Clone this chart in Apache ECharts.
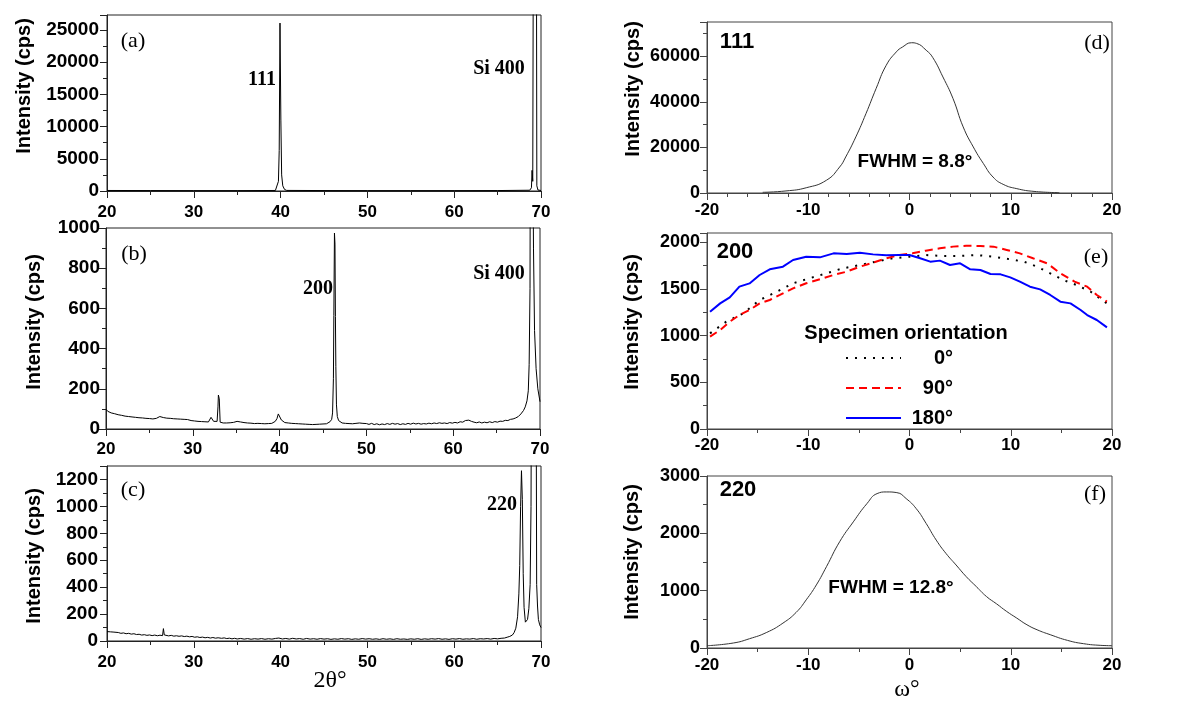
<!DOCTYPE html>
<html><head><meta charset="utf-8">
<script src="https://cdn.jsdelivr.net/npm/echarts@6/dist/echarts.min.js"></script>
<style>html,body{margin:0;padding:0;background:#fff}#c{width:1182px;height:707px}</style>
</head><body><div id="c"></div>
<script>
// ---------- DATA ----------
// (a) 2theta scan, 111 texture
const scanA = [[20,80],[25,70],[30,60],[35,60],[39.4,80],[39.6,300],[39.75,1500],[39.84,6300],[39.93,26050],[40.03,11000],[40.12,2500],[40.25,800],[40.45,250],[40.7,90],[45,70],[50,60],[55,60],[60,60],[65,70],[68.7,120],[68.9,500],[68.97,3200],[69.05,1500],[69.15,60000],[69.45,60000],[69.52,800],[69.65,150],[70,80]];
// (b) 2theta scan, 200 texture
const scanB = [[20.0,98],[20.2,88],[20.4,92],[20.6,80],[20.8,84],[21.0,76],[21.2,80],[21.4,71],[21.6,74],[21.8,68],[22.0,72],[22.2,64],[22.4,68],[22.6,62],[22.8,66],[23.0,60],[23.2,64],[23.4,58],[23.6,63],[23.8,56],[24.0,61],[24.2,55],[24.4,59],[24.6,53],[24.8,57],[25.0,52],[25.2,56],[25.4,50],[25.6,55],[25.8,53],[26.0,58],[26.2,62],[26.4,54],[26.6,57],[26.8,50],[27.0,54],[27.2,48],[27.4,53],[27.6,47],[27.8,51],[28.0,46],[28.2,50],[28.4,45],[28.6,49],[28.8,44],[29.0,48],[29.2,43],[29.4,47],[29.6,50],[29.8,42],[30.0,45],[30.2,40],[30.4,44],[30.6,38],[30.8,42],[31.0,37],[31.2,40],[31.4,36],[31.6,39],[31.8,35],[32.0,40],[32.1,58],[32.2,52],[32.4,38],[32.6,36],[32.8,38],[32.9,110],[32.95,169],[33.05,150],[33.15,34],[33.3,28],[33.5,30],[33.7,27],[33.9,30],[34.1,28],[34.3,31],[34.5,29],[34.7,33],[34.9,35],[35.1,38],[35.3,40],[35.5,35],[35.7,37],[35.9,32],[36.1,34],[36.3,30],[36.5,33],[36.7,29],[36.9,31],[37.1,27],[37.3,30],[37.5,28],[37.7,30],[37.9,27],[38.1,29],[38.3,26],[38.5,29],[38.7,27],[38.9,30],[39.1,28],[39.3,32],[39.5,38],[39.7,52],[39.85,75],[39.95,81],[40.05,68],[40.2,45],[40.4,36],[40.6,32],[40.8,34],[41.0,30],[41.2,32],[41.4,28],[41.6,31],[41.8,27],[42.0,29],[42.2,26],[42.4,28],[42.6,25],[42.8,28],[43.0,24],[43.2,27],[43.4,23],[43.6,26],[43.8,22],[44.0,25],[44.2,23],[44.4,26],[44.6,24],[44.8,27],[45.0,25],[45.2,28],[45.4,26],[45.6,30],[45.8,36],[46.0,48],[46.1,80],[46.2,250],[46.25,565],[46.32,975],[46.38,920],[46.43,560],[46.48,310],[46.55,120],[46.65,62],[46.8,42],[47.0,34],[47.2,30],[47.4,33],[47.6,28],[47.8,31],[48.0,27],[48.2,30],[48.4,26],[48.6,33],[48.8,28],[49.0,26],[49.2,30],[49.4,25],[49.6,28],[49.8,24],[50.0,27],[50.3,23],[50.6,28],[50.9,22],[51.2,26],[51.5,21],[51.8,25],[52.1,22],[52.4,27],[52.7,23],[53.0,28],[53.3,24],[53.6,27],[53.9,22],[54.2,26],[54.5,23],[54.8,28],[55.1,24],[55.4,29],[55.7,25],[56.0,28],[56.3,24],[56.6,27],[56.9,25],[57.2,29],[57.5,26],[57.8,30],[58.1,27],[58.4,31],[58.7,28],[59.0,30],[59.3,27],[59.6,32],[59.9,29],[60.2,33],[60.5,30],[60.8,36],[61.1,34],[61.4,42],[61.6,48],[61.8,44],[62.1,38],[62.4,34],[62.7,31],[63.0,35],[63.3,30],[63.6,34],[63.9,31],[64.2,36],[64.5,32],[64.8,37],[65.1,34],[65.4,39],[65.7,38],[66.0,43],[66.3,42],[66.6,48],[66.9,50],[67.2,55],[67.5,62],[67.8,75],[68.1,92],[68.3,110],[68.5,140],[68.65,190],[68.75,320],[68.85,700],[68.95,3000],[69.15,3000],[69.25,900],[69.37,490],[69.55,300],[69.75,200],[70.0,136]];
// (c) 2theta scan, 220 texture
const scanC = [[20.0,70],[20.2,64],[20.4,68],[20.6,62],[20.8,66],[21.0,60],[21.3,63],[21.6,57],[21.9,60],[22.2,54],[22.5,57],[22.8,51],[23.1,54],[23.4,48],[23.7,50],[24.0,44],[24.3,47],[24.6,42],[24.9,45],[25.2,40],[25.5,44],[25.8,39],[26.1,43],[26.4,40],[26.5,92],[26.6,45],[26.8,41],[27.1,38],[27.4,42],[27.7,36],[28.0,39],[28.3,35],[28.6,38],[28.9,33],[29.2,36],[29.5,31],[29.8,34],[30.1,28],[30.4,31],[30.7,26],[31.0,29],[31.3,24],[31.6,27],[31.9,22],[32.2,26],[32.5,21],[32.8,24],[33.0,32],[33.2,20],[33.5,23],[33.8,18],[34.1,21],[34.4,16],[34.7,20],[35.0,15],[35.4,19],[35.8,14],[36.2,18],[36.6,13],[37.0,17],[37.4,14],[37.8,18],[38.2,13],[38.6,17],[39.0,14],[39.4,19],[39.8,22],[40.2,15],[40.6,19],[41.0,14],[41.4,20],[41.8,15],[42.2,18],[42.6,13],[43.0,19],[43.4,14],[43.8,17],[44.2,13],[44.6,18],[45.0,14],[45.4,17],[45.8,12],[46.2,16],[46.6,13],[47.0,18],[47.4,14],[47.8,17],[48.2,12],[48.6,16],[49.0,13],[49.4,18],[49.8,14],[50.2,17],[50.6,13],[51.0,16],[51.4,12],[51.8,17],[52.2,13],[52.6,16],[53.0,12],[53.4,17],[53.8,13],[54.2,15],[54.6,12],[55.0,16],[55.4,13],[55.8,17],[56.2,12],[56.6,16],[57.0,13],[57.4,17],[57.8,14],[58.2,18],[58.6,13],[59.0,16],[59.4,12],[59.8,17],[60.2,14],[60.6,18],[61.0,13],[61.4,16],[61.8,14],[62.2,18],[62.6,13],[63.0,17],[63.4,15],[63.8,18],[64.2,14],[64.6,19],[65.0,16],[65.4,20],[65.8,22],[66.1,28],[66.4,34],[66.7,44],[66.9,62],[67.1,95],[67.3,180],[67.45,350],[67.55,560],[67.65,1000],[67.75,1265],[67.85,1050],[67.95,500],[68.05,250],[68.2,140],[68.3,133],[68.45,160],[68.6,240],[68.75,420],[68.85,1000],[68.95,3000],[69.4,3000],[69.5,420],[69.6,260],[69.7,160],[69.85,120],[70.0,100]];
// (d) rocking curve 111
const rockD = [[-14.5,300],[-12.2,900],[-10.2,2300],[-8.2,5600],[-6.9,11400],[-6.3,15800],[-5.3,24600],[-4.3,34800],[-3.3,45800],[-2.3,56000],[-1.3,61900],[-0.7,64000],[0.2,65900],[0.7,65600],[1.65,62600],[2.3,59400],[3.3,50900],[4.3,41400],[5.3,29000],[6.3,20200],[7.3,12900],[8.25,7000],[9.25,3800],[10.6,1900],[12.3,700],[14.8,150]];
// (e) rocking curves 200, three specimen orientations
const rockE0 = [[-19.7,1025],[-18.1,1150],[-16.4,1239],[-14.8,1382],[-13.1,1471],[-11.5,1561],[-9.9,1614],[-8.2,1668],[-6.6,1721],[-4.9,1757],[-3.3,1793],[-1.65,1829],[0,1846],[1.65,1864],[3.3,1854],[5.0,1854],[6.6,1864],[8.3,1846],[9.95,1818],[11.3,1793],[12.6,1739],[13.9,1668],[15.2,1596],[16.5,1543],[17.9,1471],[19.5,1346]];
const rockE90 = [[-19.7,989],[-18.7,1061],[-17.75,1150],[-16.8,1221],[-15.8,1275],[-14.8,1346],[-13.8,1382],[-12.8,1436],[-11.5,1507],[-10.2,1561],[-8.85,1604],[-7.5,1650],[-6.2,1686],[-4.9,1739],[-3.6,1782],[-2.3,1829],[-1.0,1864],[0.3,1882],[1.6,1911],[3.0,1936],[4.3,1954],[5.6,1964],[7.0,1961],[8.3,1954],[9.6,1918],[10.9,1882],[12.2,1829],[13.6,1775],[14.9,1668],[16.3,1579],[17.55,1525],[18.5,1436],[19.5,1364]];
const rockE180 = [[-19.7,1257],[-18.7,1346],[-17.75,1411],[-16.8,1525],[-15.8,1560],[-14.8,1650],[-13.8,1711],[-12.5,1739],[-11.5,1811],[-10.2,1846],[-8.85,1839],[-7.5,1882],[-6.2,1875],[-4.9,1889],[-3.6,1871],[-2.3,1861],[-1.0,1864],[0,1864],[1.05,1829],[2.05,1793],[3.0,1804],[4.0,1757],[5.0,1775],[6.0,1711],[7.0,1704],[8.0,1661],[9.0,1657],[9.95,1625],[10.9,1579],[11.9,1525],[12.9,1496],[13.9,1436],[14.9,1364],[15.9,1346],[16.9,1275],[17.55,1221],[18.5,1168],[19.5,1089]];
// (f) rocking curve 220
const rockF = [[-20,40],[-17.4,87],[-15.8,162],[-14.1,272],[-12.5,434],[-11.2,620],[-10.2,840],[-9.2,1100],[-8.2,1419],[-6.9,1853],[-5.55,2200],[-4.2,2519],[-3.2,2693],[-2.25,2722],[-1.25,2710],[-0.33,2606],[0.66,2432],[1.65,2171],[2.64,1882],[3.6,1650],[4.6,1448],[5.6,1245],[6.6,1071],[7.6,898],[8.6,770],[9.6,637],[10.6,521],[11.6,405],[12.6,318],[13.9,232],[15.6,133],[17.2,75],[18.9,46],[20,40]];
const orientationNames = ['0°','90°','180°'];

// ---------- LAYOUT / STYLE ----------
const SANS = "'Liberation Sans', Arial, sans-serif";
const SERIF = "'Liberation Serif', 'Times New Roman', serif";
const L = '#222', R = '#444';
const grids = [
  {left:107, top:15, width:434, height:176},
  {left:106, top:228, width:434, height:201},
  {left:107, top:466, width:434, height:175},
  {left:707, top:22, width:405, height:171},
  {left:707, top:233, width:405, height:196},
  {left:707, top:476, width:405, height:172}
];
const gridCols = [L,L,L,R,R,R];
const plain = v => String(v);

function xAx(gi, min, max, interval, minorSplit, margin, color) {
  return {type:'value', gridIndex:gi, min, max, interval,
    axisLine:{show:true, onZero:false, lineStyle:{color, width:1}},
    axisTick:{show:true, inside:false, length:7, lineStyle:{color}},
    minorTick:{show:true, splitNumber:minorSplit, length:4, lineStyle:{color}},
    splitLine:{show:false}, minorSplitLine:{show:false},
    axisLabel:{margin, formatter:plain, color:'#000', fontFamily:SANS, fontWeight:'bold', fontSize:17}};
}
function yAx(gi, min, max, interval, minorSplit, margin, color, fs, showMax) {
  return {type:'value', gridIndex:gi, min, max, interval,
    axisLine:{show:true, onZero:false, lineStyle:{color, width:1}},
    axisTick:{show:true, inside:false, length:7, lineStyle:{color}},
    minorTick:{show:true, splitNumber:minorSplit, length:4, lineStyle:{color}},
    splitLine:{show:false}, minorSplitLine:{show:false},
    axisLabel:{margin, formatter:plain, color:'#000', fontFamily:SANS, fontWeight:'bold', fontSize:fs, showMaxLabel:showMax}};
}
function line(name, gi, data, style, smooth) {
  return {name, type:'line', xAxisIndex:gi, yAxisIndex:gi, data, showSymbol:false, symbol:'none',
    clip:true, smooth: smooth || false,
    itemStyle:{color:style.color}, lineStyle:style, animation:false};
}
function txt(x, y, text, font, rot) {
  return {type:'text', x, y, rotation: rot || 0, silent:true,
    style:{text, x:0, y:0, font, fill:'#000', textAlign:'center', textVerticalAlign:'middle'}};
}
const yTitle = 'bold 20px ' + SANS;

const option = {
  backgroundColor:'#fff',
  animation:false,
  grid: grids.map((g,i)=>Object.assign({show:true, borderColor:gridCols[i], borderWidth:1, backgroundColor:'transparent', containLabel:false}, g)),
  xAxis: [
    xAx(0,20,70,10,2,13,L), xAx(1,20,70,10,2,12,L), xAx(2,20,70,10,2,13,L),
    xAx(3,-20,20,10,5,9,R), xAx(4,-20,20,10,2,8,R), xAx(5,-20,20,10,2,9,R)
  ],
  yAxis: [
    yAx(0,0,27300,5000,2,8,L,19,false), yAx(1,0,1000,200,2,6,L,19,true), yAx(2,0,1300,200,2,9,L,19,false),
    yAx(3,0,75000,20000,2,7,R,18,false), yAx(4,0,2100,500,2,7,R,18,false), yAx(5,0,3000,1000,2,7,R,18,true)
  ],
  legend: {
    left:840, top:343, orient:'vertical', itemWidth:55, itemHeight:14, itemGap:10,
    data: orientationNames, selectedMode:false,
    itemStyle:{opacity:0},
    formatter: n => '{r|' + n + '}',
    textStyle:{color:'#000', fontFamily:SANS, fontWeight:'bold', fontSize:20,
      rich:{r:{width:47, align:'right', color:'#000', fontFamily:SANS, fontWeight:'bold', fontSize:20}}}
  },
  series: [
    line('a', 0, scanA, {color:'#000', width:1}),
    line('b', 1, scanB, {color:'#000', width:1}),
    line('c', 2, scanC, {color:'#000', width:1}),
    line('d', 3, rockD, {color:'#333', width:1}, 0.5),
    line(orientationNames[0], 4, rockE0, {color:'#000', width:2, type:[2,7]}),
    line(orientationNames[1], 4, rockE90, {color:'#ff0000', width:2, type:[8,5]}),
    line(orientationNames[2], 4, rockE180, {color:'#0000ff', width:2}),
    line('f', 5, rockF, {color:'#333', width:1}, 0.5)
  ],
  graphic: [
    txt(24, 86, 'Intensity (cps)', yTitle, Math.PI/2),
    txt(34.5, 322, 'Intensity (cps)', yTitle, Math.PI/2),
    txt(34, 556, 'Intensity (cps)', yTitle, Math.PI/2),
    txt(633, 89, 'Intensity (cps)', yTitle, Math.PI/2),
    txt(632, 322, 'Intensity (cps)', yTitle, Math.PI/2),
    txt(632, 552, 'Intensity (cps)', yTitle, Math.PI/2),
    txt(133, 41, '(a)', '22px ' + SERIF),
    txt(134, 254, '(b)', '22px ' + SERIF),
    txt(133, 490, '(c)', '22px ' + SERIF),
    txt(262, 80, '111', 'bold 20px ' + SERIF),
    txt(499, 69, 'Si 400', 'bold 20px ' + SERIF),
    txt(318, 289, '200', 'bold 20px ' + SERIF),
    txt(499, 274, 'Si 400', 'bold 20px ' + SERIF),
    txt(502, 505, '220', 'bold 20px ' + SERIF),
    txt(330, 681, '2θ°', '24px ' + SERIF),
    txt(737, 42, '111', 'bold 22px ' + SANS),
    txt(1097, 43, '(d)', '22px ' + SERIF),
    txt(915, 162, 'FWHM = 8.8°', 'bold 19px ' + SANS),
    txt(735, 252, '200', 'bold 22px ' + SANS),
    txt(1096, 257, '(e)', '22px ' + SERIF),
    txt(906, 333, 'Specimen orientation', 'bold 20px ' + SANS),
    txt(738, 490, '220', 'bold 22px ' + SANS),
    txt(1095, 494, '(f)', '22px ' + SERIF),
    txt(891, 588, 'FWHM = 12.8°', 'bold 19px ' + SANS),
    txt(907, 690, 'ω°', '24px ' + SERIF)
  ]
};
const chart = echarts.init(document.getElementById('c'), null, {renderer:'canvas'});
chart.setOption(option);
</script></body></html>
